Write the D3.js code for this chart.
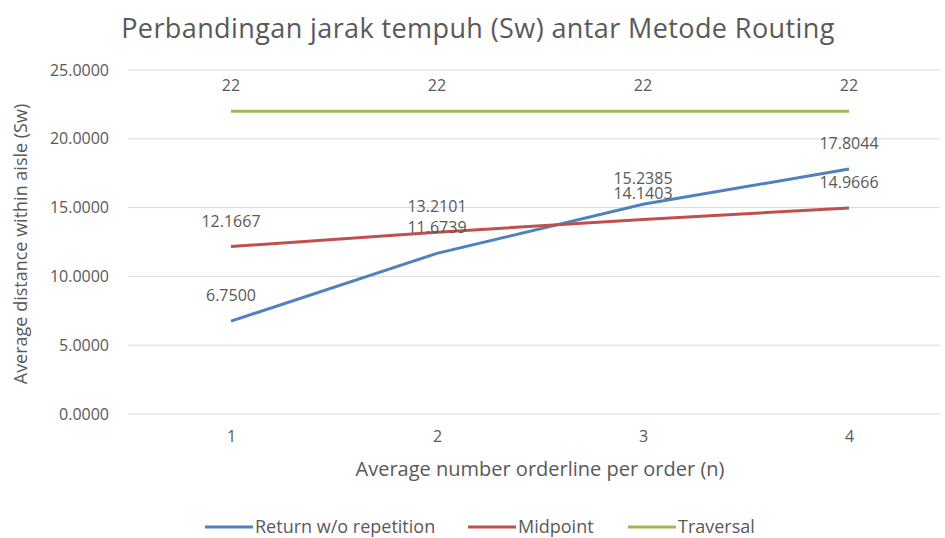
<!DOCTYPE html>
<html lang="en">
<head>
<meta charset="UTF-8">
<title>Perbandingan jarak tempuh (Sw) antar Metode Routing</title>
<style>
    body { margin: 0; background: #fff; font-family: 'Open Sans', sans-serif; }
    svg text { fill: #595959; }
</style>
</head>
<body>
<svg id="chart" width="945" height="538"></svg>
<script src="https://d3js.org/d3.v7.min.js"></script>
<script>
    // chart data
    const categories = [1, 2, 3, 4];
    const returnWoRep = [6.75, 11.6739, 15.2385, 17.8044];
    const midpoint = [12.1667, 13.2101, 14.1403, 14.9666];
    const traversal = [22, 22, 22, 22];
    const yTicks = [0, 5, 10, 15, 20, 25];

    const series = [
        { name: "Return w/o repetition", values: returnWoRep, color: "#4f81bd", fmt: d3.format(".4f") },
        { name: "Midpoint", values: midpoint, color: "#c0504d", fmt: d3.format(".4f") },
        { name: "Traversal", values: traversal, color: "#9bbb59", fmt: d => String(d) }
    ];

    const svg = d3.select("#chart");

    const x = d3.scalePoint().domain(categories).range([231, 849]);
    const y = d3.scaleLinear().domain([0, 25]).range([414, 70]);

    // gridlines
    svg.append("g")
        .selectAll("line")
        .data(yTicks)
        .join("line")
        .attr("x1", 128).attr("x2", 940)
        .attr("y1", d => y(d)).attr("y2", d => y(d))
        .attr("stroke", "#d9d9d9").attr("stroke-width", 1);

    // y axis labels
    const yAxis = svg.append("g")
        .attr("transform", "translate(109,0)")
        .call(d3.axisLeft(y).tickValues(yTicks).tickFormat(d3.format(".4f")).tickSize(0).tickPadding(0));
    yAxis.select(".domain").remove();
    yAxis.selectAll("text").style("font-size", "16px").style("fill", "#595959").attr("font-family", "Open Sans");

    // x axis labels
    const xAxis = svg.append("g")
        .attr("transform", "translate(0,429)")
        .call(d3.axisBottom(x).tickSize(0).tickPadding(2));
    xAxis.select(".domain").remove();
    xAxis.selectAll("text").style("font-size", "16px").style("fill", "#595959").attr("font-family", "Open Sans");

    // lines
    const line = d3.line()
        .x((d, i) => x(categories[i]))
        .y(d => y(d));

    series.forEach(s => {
        svg.append("path")
            .datum(s.values)
            .attr("fill", "none")
            .attr("stroke", s.color)
            .attr("stroke-width", 3)
            .attr("d", line);
    });

    // data labels above each point
    series.forEach(s => {
        svg.append("g")
            .selectAll("text")
            .data(s.values)
            .join("text")
            .attr("x", (d, i) => x(categories[i]))
            .attr("y", d => y(d) - 20)
            .attr("text-anchor", "middle")
            .style("font-size", "16px")
            .text(d => s.fmt(d));
    });

    // title
    svg.append("text")
        .attr("x", 478).attr("y", 38)
        .attr("text-anchor", "middle")
        .style("font-size", "27px")
        .style("letter-spacing", "0.4px")
        .text("Perbandingan jarak tempuh (Sw) antar Metode Routing");

    // axis titles
    svg.append("text")
        .attr("transform", "translate(27,244) rotate(-90)")
        .attr("text-anchor", "middle")
        .style("font-size", "18px")
        .text("Average distance within aisle (Sw)");

    svg.append("text")
        .attr("x", 540).attr("y", 476)
        .attr("text-anchor", "middle")
        .style("font-size", "20px")
        .text("Average number orderline per order (n)");

    // legend
    const legendX = [205, 468, 628];
    const legend = svg.append("g")
        .selectAll("g")
        .data(series)
        .join("g")
        .attr("transform", (d, i) => `translate(${legendX[i]},527)`);
    legend.append("line")
        .attr("x1", 0).attr("x2", 48)
        .attr("stroke", d => d.color).attr("stroke-width", 3);
    legend.append("text")
        .attr("x", 50).attr("y", 6)
        .style("font-size", "18px")
        .text(d => d.name);
</script>
</body>
</html>
